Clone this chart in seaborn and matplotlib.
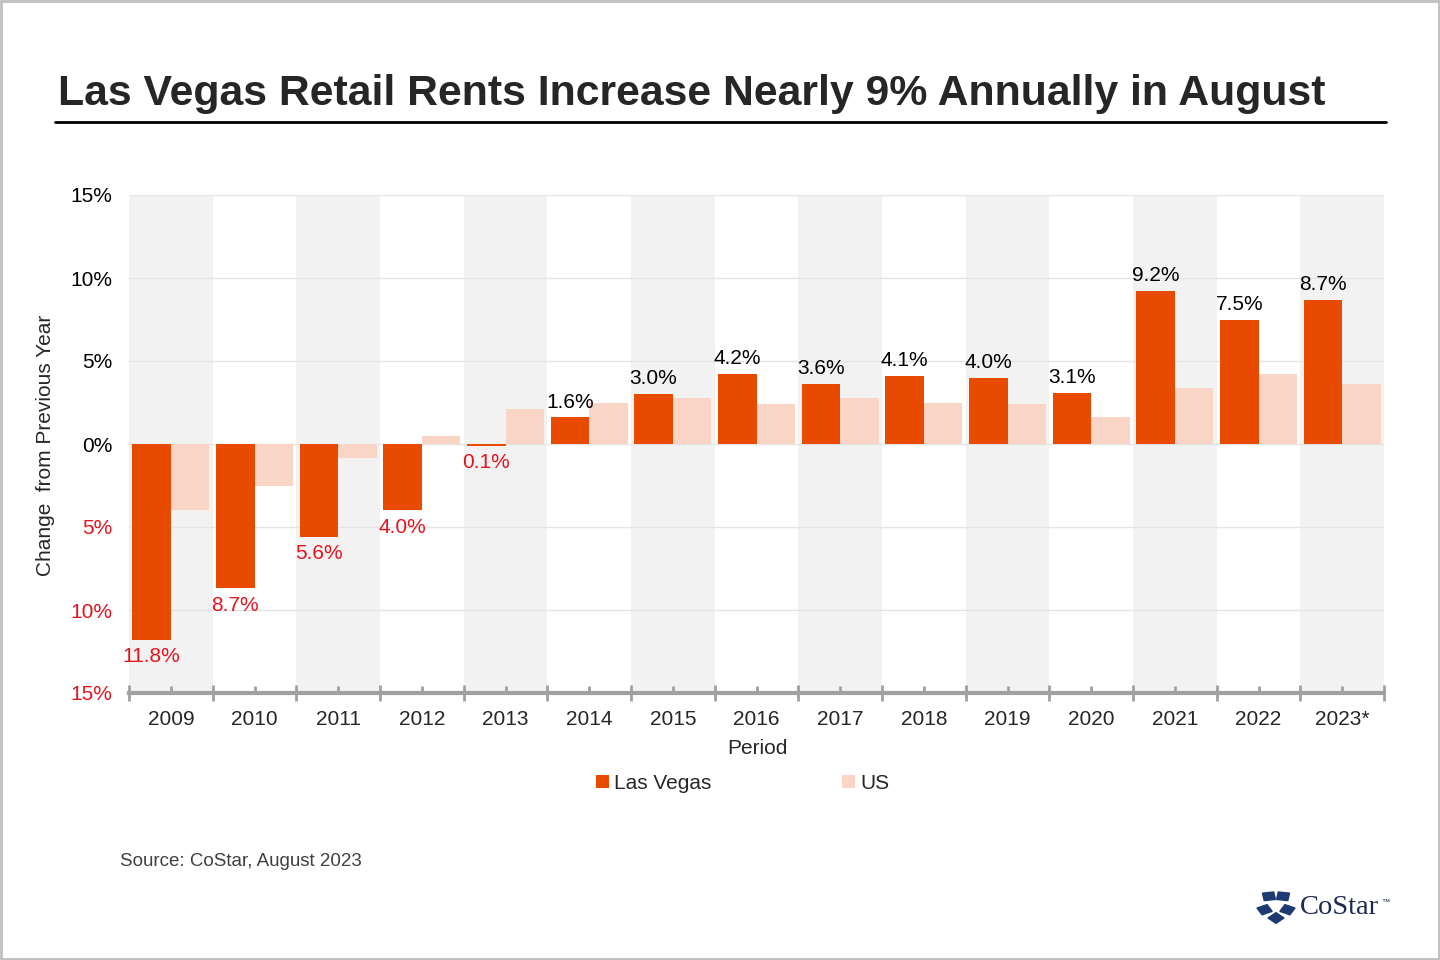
import matplotlib
matplotlib.use("Agg")
import matplotlib.pyplot as plt
import matplotlib.patches as mpatches
import matplotlib.lines as mlines
import numpy as np
import pandas as pd
import seaborn as sns

years = ["2009", "2010", "2011", "2012", "2013", "2014", "2015", "2016",
         "2017", "2018", "2019", "2020", "2021", "2022", "2023*"]
las_vegas = [-11.8, -8.7, -5.6, -4.0, -0.1, 1.6, 3.0, 4.2, 3.6, 4.1, 4.0, 3.1, 9.2, 7.5, 8.7]
us = [-4.0, -2.5, -0.85, 0.5, 2.1, 2.5, 2.8, 2.4, 2.8, 2.5, 2.4, 1.6, 3.4, 4.2, 3.6]
series_names = ["Las Vegas", "US"]
yticks = [-15, -10, -5, 0, 5, 10, 15]

lv_col = "#E84A00"
us_col = "#F8D5C5"
neg_col = "#E3141E"

sns.set_style("white")
plt.rcParams["font.family"] = ["Liberation Sans", "DejaVu Sans"]

df = pd.DataFrame({
    "Period": years * 2,
    "value": las_vegas + us,
    "series": [series_names[0]] * len(years) + [series_names[1]] * len(years),
})

fig = plt.figure(figsize=(14.4, 9.6), dpi=100)
ax = fig.add_axes([129 / 1440, 1 - 693 / 960, 1255 / 1440, 498 / 960])

# alternating grey bands
for i in range(len(years)):
    if i % 2 == 0:
        ax.axvspan(i - 0.5, i + 0.5, color="#F2F2F2", zorder=0, lw=0)

for t in yticks[1:]:
    ax.axhline(t, color="#E4E4E4", lw=1, zorder=0.5)

sns.barplot(data=df, x="Period", y="value", hue="series",
            palette=[lv_col, us_col], width=0.92, gap=0, saturation=1,
            linewidth=0, ax=ax, zorder=2)

ax.set_xlim(-0.5, len(years) - 0.5)
ax.set_ylim(-15, 15)
ax.set_yticks(yticks)
ax.set_yticklabels([f"{abs(v)}%" for v in yticks], fontsize=15)
for lab, v in zip(ax.get_yticklabels(), yticks):
    lab.set_color(neg_col if v < 0 else "black")
ax.tick_params(axis="y", length=0, pad=12)

ax.set_xticks(range(len(years)))
ax.set_xticklabels(years, fontsize=15)
ax.set_xticks(np.arange(-0.5, len(years)), minor=True)
ax.tick_params(axis="x", which="both", bottom=True)
ax.tick_params(axis="x", which="major", direction="in", length=5, width=2,
               color="#A0A0A0", pad=12)
ax.tick_params(axis="x", which="minor", direction="inout", length=12, width=2,
               color="#A0A0A0")

for s in ["top", "right", "left"]:
    ax.spines[s].set_visible(False)
ax.spines["bottom"].set_color("#A0A0A0")
ax.spines["bottom"].set_linewidth(3)
ax.set_xlabel("")
ax.set_ylabel("")

# data labels for Las Vegas
for i, v in enumerate(las_vegas):
    if v >= 0:
        ax.text(i - 0.23, v + 0.35, f"{v:.1f}%", ha="center", va="bottom",
                fontsize=15, color="black", zorder=3)
    else:
        ax.text(i - 0.23, v - 0.45, f"{abs(v):.1f}%", ha="center", va="top",
                fontsize=15, color=neg_col, zorder=3)

sns.move_legend(ax, "center", bbox_to_anchor=(0.489, -0.181), ncol=2,
                frameon=False, title=None, fontsize=15, columnspacing=6.3,
                handlelength=0.6, handleheight=0.6, handletextpad=0.25)

fig.text(757 / 1440, 1 - 748 / 960, "Period", ha="center", va="center", fontsize=15)
fig.text(46 / 1440, 1 - 445 / 960, "Change  from Previous Year", rotation=90,
         ha="center", va="center", fontsize=15)

fig.text(58 / 1440, 1 - 94 / 960, "Las Vegas Retail Rents Increase Nearly 9% Annually in August",
         ha="left", va="center", fontsize=30.8, fontweight="bold")
fig.add_artist(mlines.Line2D([55 / 1440, 1386 / 1440], [1 - 122 / 960, 1 - 122 / 960],
                             color="black", lw=2))

fig.text(120 / 1440, 1 - 861 / 960, "Source: CoStar, August 2023", ha="left",
         va="center", fontsize=13.5, color="#404040")

# CoStar logo
cx, cy, r = 1276, 906, 12
for k in range(5):
    a = np.deg2rad(90 + k * 72)
    px, py = cx + r * np.cos(a), cy + r * np.sin(a)
    sq = mpatches.RegularPolygon((px / 1440, 1 - py / 960), numVertices=4,
                                 radius=8 / 1440, orientation=a,
                                 transform=fig.transFigure, color="#1D3A73")
    fig.add_artist(sq)
fig.text(1300 / 1440, 1 - 907 / 960, "CoStar", family="Liberation Serif",
         fontsize=20.5, color="#1D2B4F", ha="left", va="center")
fig.text(1381 / 1440, 1 - 902 / 960, "\u2122", fontsize=6, color="#1D2B4F",
         ha="left", va="center")

fig.add_artist(mpatches.Rectangle((0.001, 0.001), 0.998, 0.998, transform=fig.transFigure,
                                  fill=False, edgecolor="#BFBFBF", lw=2))

fig.savefig("out.png", dpi=100)
